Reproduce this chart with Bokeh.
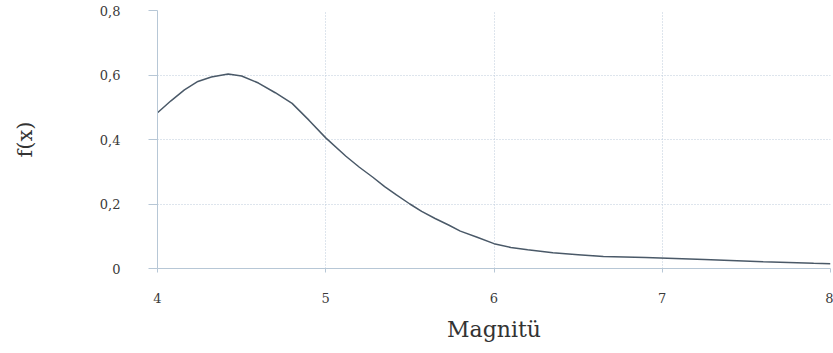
from bokeh.plotting import figure
from bokeh.embed import file_html
from bokeh.resources import INLINE
from bokeh.models import FixedTicker, CustomJSTickFormatter

# Data
magnitude = [4.0, 4.08, 4.16, 4.24, 4.32, 4.42, 4.5, 4.6, 4.7, 4.8, 4.9, 5.0, 5.12, 5.2,
             5.28, 5.35, 5.42, 5.5, 5.57, 5.65, 5.73, 5.8, 5.9, 6.0, 6.1, 6.2, 6.35,
             6.5, 6.65, 6.9, 7.25, 7.6, 7.9, 8.0]
fx = [0.483, 0.52, 0.554, 0.58, 0.594, 0.603, 0.597, 0.575, 0.545, 0.512, 0.46, 0.405,
      0.348, 0.314, 0.283, 0.254, 0.228, 0.2, 0.177, 0.155, 0.135, 0.116, 0.097, 0.077,
      0.065, 0.058, 0.049, 0.043, 0.037, 0.034, 0.028, 0.021, 0.016, 0.015]

x_ticks = [4, 5, 6, 7, 8]
x_tick_labels = ["4", "5", "6", "7", "8"]
y_ticks = [0, 0.2, 0.4, 0.6, 0.8]
y_tick_labels = ["0", "0,2", "0,4", "0,6", "0,8"]

p = figure(width=833, height=353, output_backend="svg", toolbar_location=None,
           x_range=(4, 8), y_range=(0, 0.8),
           min_border_left=157, min_border_right=3, min_border_top=10, min_border_bottom=85)
p.outline_line_color = None
p.background_fill_color = "white"
p.border_fill_color = "white"

p.line(magnitude, fx, line_color="#4a5968", line_width=1.5)

grid_color = "#bccbdb"
for g in (p.xgrid, p.ygrid):
    g.grid_line_color = grid_color
    g.grid_line_dash = "1 2"
    g.grid_line_width = 1
p.xgrid.ticker = FixedTicker(ticks=x_ticks)
p.ygrid.ticker = FixedTicker(ticks=y_ticks)

fmt_code = """
for (let i = 0; i < tvals.length; i++) {
  if (Math.abs(tvals[i] - tick) < 1e-9) return tlabels[i];
}
return '';
"""

xa = p.xaxis[0]
xa.ticker = FixedTicker(ticks=x_ticks)
xa.formatter = CustomJSTickFormatter(args=dict(tvals=x_ticks, tlabels=x_tick_labels), code=fmt_code)
xa.axis_label = "Magnitü"
ya = p.yaxis[0]
ya.ticker = FixedTicker(ticks=y_ticks)
ya.formatter = CustomJSTickFormatter(args=dict(tvals=y_ticks, tlabels=y_tick_labels), code=fmt_code)
ya.axis_label = "f(x)"

serif = "DejaVu Serif"
for ax in (xa, ya):
    ax.axis_line_color = "#b7c7d6"
    ax.major_tick_line_color = "#b7c7d6"
    ax.minor_tick_line_color = None
    ax.major_tick_in = 0
    ax.major_label_text_font = serif
    ax.major_label_text_font_size = "13px"
    ax.major_label_text_color = "#3a3a3a"
    ax.axis_label_text_font = serif
    ax.axis_label_text_font_style = "normal"
    ax.axis_label_text_color = "#333333"

xa.major_tick_out = 4
xa.major_label_standoff = 20
xa.axis_label_text_font_size = "22px"
xa.axis_label_standoff = 11

ya.major_tick_out = 9
ya.major_label_standoff = 28
ya.axis_label_text_font_size = "21px"
ya.axis_label_standoff = 60

open("out.html", "w").write(file_html(p, INLINE))
